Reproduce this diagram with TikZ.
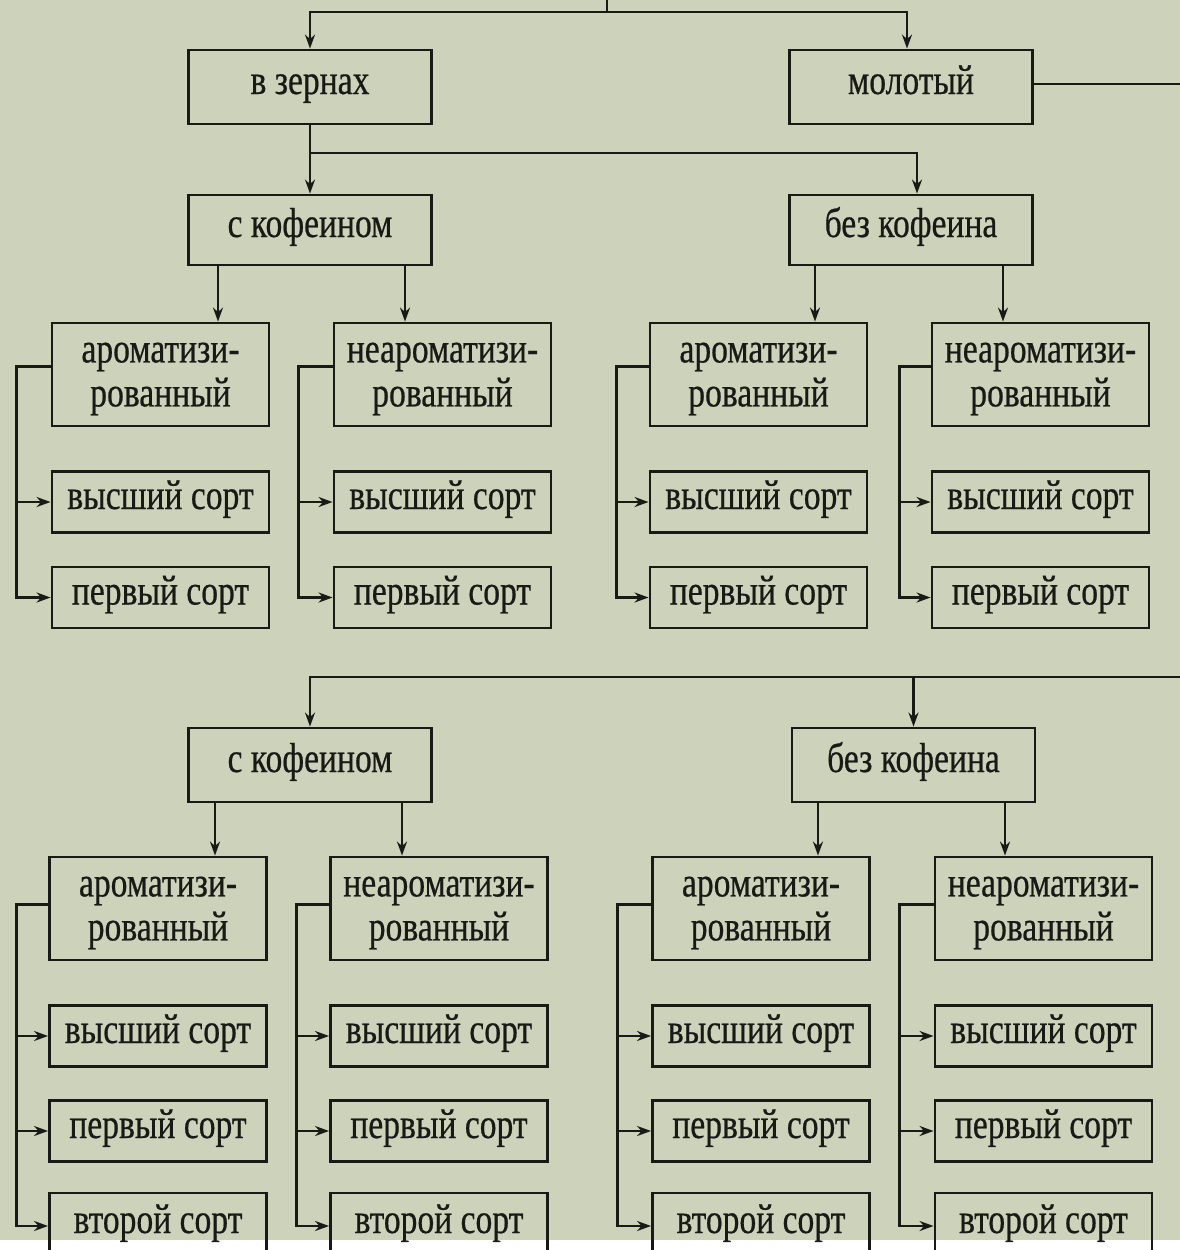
\documentclass[tikz,border=0pt]{standalone}
\usepackage{fontspec}
\setmainfont{Liberation Serif}[FakeStretch=0.8, FakeBold=0.5]
\usetikzlibrary{arrows.meta}
\definecolor{paper}{RGB}{205,210,187}
\definecolor{ink}{RGB}{25,25,22}

\begin{document}
\begin{tikzpicture}[x=0.5pt, y=-0.5pt, line width=1.45pt, draw=ink, text=ink,
    font=\fontsize{21}{22}\selectfont,
    box/.style={draw, inner sep=0pt, align=center},
    topbox/.style={box, minimum width=121.5pt, minimum height=37pt, text height=12pt, text depth=5pt},
    leaf/.style={box, minimum width=108.5pt, minimum height=30.5pt, text height=12pt, text depth=5pt},
    twoline/.style={box, minimum width=108.5pt, minimum height=51.5pt, text depth=0pt},
    arr/.style={-{Stealth[length=7pt,width=5pt]}}]
    \useasboundingbox (0,0) rectangle (1180,1250);
    \clip (0,0) rectangle (1180,1250);
    \fill[paper] (0,0) rectangle (1180,1240);

    % whole beans / ground
    \node[topbox] (zern) at (310,87) {в зернах};
    \node[topbox] (molot) at (911,87) {молотый};

    % beans, upper half
    \node[topbox, minimum height=35pt] (kofz) at (310,230) {с кофеином};
    \node[topbox, minimum height=35pt] (bezz) at (911,230) {без кофеина};

    \node[twoline] (arkz) at (160.5,374.5) {ароматизи-\\рованный};
    \node[twoline] (nakz) at (442.5,374.5) {неароматизи-\\рованный};
    \node[twoline] (arbz) at (758.5,374.5) {ароматизи-\\рованный};
    \node[twoline] (nabz) at (1040.5,374.5) {неароматизи-\\рованный};

    \node[leaf] (hs-arkz) at (160.5,502) {высший сорт};
    \node[leaf] (fs-arkz) at (160.5,597.5) {первый сорт};
    \node[leaf] (hs-nakz) at (442.5,502) {высший сорт};
    \node[leaf] (fs-nakz) at (442.5,597.5) {первый сорт};
    \node[leaf] (hs-arbz) at (758.5,502) {высший сорт};
    \node[leaf] (fs-arbz) at (758.5,597.5) {первый сорт};
    \node[leaf] (hs-nabz) at (1040.5,502) {высший сорт};
    \node[leaf] (fs-nabz) at (1040.5,597.5) {первый сорт};

    % ground, lower half
    \node[topbox] (kofm) at (310,765) {с кофеином};
    \node[topbox] (bezm) at (913.5,765) {без кофеина};

    \node[twoline] (arkm) at (158,908.5) {ароматизи-\\рованный};
    \node[twoline] (nakm) at (439,908.5) {неароматизи-\\рованный};
    \node[twoline] (arbm) at (761,908.5) {ароматизи-\\рованный};
    \node[twoline] (nabm) at (1043.5,908.5) {неароматизи-\\рованный};

    \node[leaf] (hs-arkm) at (158,1036) {высший сорт};
    \node[leaf] (fs-arkm) at (158,1131) {первый сорт};
    \node[leaf, minimum height=33pt] (ss-arkm) at (158,1226) {второй сорт};
    \node[leaf] (hs-nakm) at (439,1036) {высший сорт};
    \node[leaf] (fs-nakm) at (439,1131) {первый сорт};
    \node[leaf, minimum height=33pt] (ss-nakm) at (439,1226) {второй сорт};
    \node[leaf] (hs-arbm) at (761,1036) {высший сорт};
    \node[leaf] (fs-arbm) at (761,1131) {первый сорт};
    \node[leaf, minimum height=33pt] (ss-arbm) at (761,1226) {второй сорт};
    \node[leaf] (hs-nabm) at (1043.5,1036) {высший сорт};
    \node[leaf] (fs-nabm) at (1043.5,1131) {первый сорт};
    \node[leaf, minimum height=33pt] (ss-nabm) at (1043.5,1226) {второй сорт};

    % connectors, top
    \coordinate (root) at (607,-10);
    \coordinate (rj) at (607,12);
    \draw (root) -- (rj);
    \draw[arr] (rj) -| (zern.north);
    \draw[arr] (rj) -| ([xshift=-2pt]molot.north);

    \coordinate (zj) at (310,153);
    \draw (zern.south) -- (zj);
    \draw[arr] (zj) -- (kofz.north);
    \draw[arr] (zj) -| ([xshift=3pt]bezz.north);

    \draw[arr] (kofz.south -| 218,0) -- (arkz.north -| 218,0);
    \draw[arr] (kofz.south -| 405,0) -- (nakz.north -| 405,0);
    \draw[arr] (bezz.south -| 815,0) -- (arbz.north -| 815,0);
    \draw[arr] (bezz.south -| 1003,0) -- (nabz.north -| 1003,0);

    \draw[arr] ([yshift=4pt]arkz.west) -- ++(-34,0) coordinate (arkz-b) |- (fs-arkz.west);
    \draw[arr] (arkz-b) |- (hs-arkz.west);
    \draw[arr] ([yshift=4pt]nakz.west) -- ++(-34,0) coordinate (nakz-b) |- (fs-nakz.west);
    \draw[arr] (nakz-b) |- (hs-nakz.west);
    \draw[arr] ([yshift=4pt]arbz.west) -- ++(-32,0) coordinate (arbz-b) |- (fs-arbz.west);
    \draw[arr] (arbz-b) |- (hs-arbz.west);
    \draw[arr] ([yshift=4pt]nabz.west) -- ++(-31,0) coordinate (nabz-b) |- (fs-nabz.west);
    \draw[arr] (nabz-b) |- (hs-nabz.west);

    % connectors, bottom
    \coordinate (mj) at (1200,677);
    \draw ([yshift=1.5pt]molot.east) -| (mj);
    \draw[arr] (mj) -| (kofm.north);
    \draw[arr] (bezm.north |- mj) -- (bezm.north);

    \draw[arr] (kofm.south -| 215,0) -- (arkm.north -| 215,0);
    \draw[arr] (kofm.south -| 402,0) -- (nakm.north -| 402,0);
    \draw[arr] (bezm.south -| 818,0) -- (arbm.north -| 818,0);
    \draw[arr] (bezm.south -| 1005,0) -- (nabm.north -| 1005,0);

    \draw[arr] ([yshift=2pt]arkm.west) -- ++(-32,0) coordinate (arkm-b) |- (ss-arkm.west);
    \draw[arr] (arkm-b) |- (hs-arkm.west);
    \draw[arr] (arkm-b) |- (fs-arkm.west);
    \draw[arr] ([yshift=2pt]nakm.west) -- ++(-33,0) coordinate (nakm-b) |- (ss-nakm.west);
    \draw[arr] (nakm-b) |- (hs-nakm.west);
    \draw[arr] (nakm-b) |- (fs-nakm.west);
    \draw[arr] ([yshift=2pt]arbm.west) -- ++(-34,0) coordinate (arbm-b) |- (ss-arbm.west);
    \draw[arr] (arbm-b) |- (hs-arbm.west);
    \draw[arr] (arbm-b) |- (fs-arbm.west);
    \draw[arr] ([yshift=2pt]nabm.west) -- ++(-34,0) coordinate (nabm-b) |- (ss-nabm.west);
    \draw[arr] (nabm-b) |- (hs-nabm.west);
    \draw[arr] (nabm-b) |- (fs-nabm.west);
\end{tikzpicture}
\end{document}
